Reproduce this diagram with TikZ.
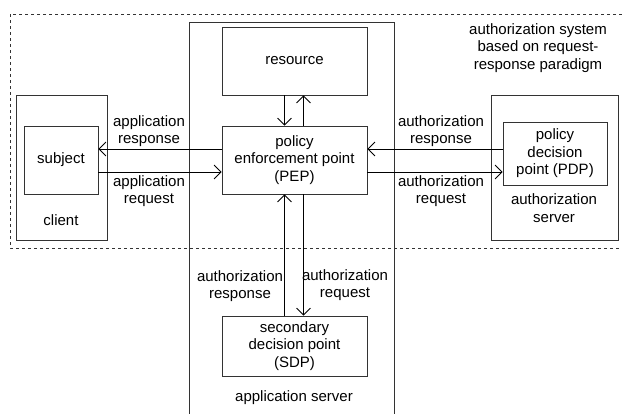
\documentclass[tikz,border=0pt]{standalone}
\usepackage{fontspec}
\setmainfont{Liberation Sans}
\usetikzlibrary{arrows.meta}
\begin{document}
\begin{tikzpicture}[x=1pt,y=-1pt,
  font=\fontsize{15}{17.5}\selectfont,
  box/.style={draw=black!80,line width=0.8pt,inner sep=0pt,align=center},
  lab/.style={align=center,inner sep=0pt},
  msg/.style={line width=0.8pt,-{Straight Barb[length=7pt,width=14pt]}}]
  \useasboundingbox (0,0) rectangle (622,413);
  % outer system and server frames
  \draw[dashed,line width=0.8pt,black!80] (10,14) rectangle (640,248);
  \node[box,minimum width=205,minimum height=410] (appsrv) at (291.5,227) {};
  \node[box,minimum width=91,minimum height=145] (client) at (61.5,167.5) {};
  \node[box,minimum width=127,minimum height=145] (authsrv) at (554.5,167.5) {};
  % components
  \node[box,minimum width=145,minimum height=68] (res) at (294.5,61) {resource};
  \node[box,minimum width=145,minimum height=68] (pep) at (294.5,160)
    {policy\\enforcement point\\(PEP)};
  \node[box,minimum width=145,minimum height=60] (sdp) at (294.5,346)
    {secondary\\decision point\\(SDP)};
  \node[box,minimum width=74,minimum height=68] (subj) at (61,160) {subject};
  \node[box,minimum width=104,minimum height=63] (pdp) at (555,153.5)
    {policy\\decision\\point (PDP)};
  % frame labels
  \node[lab] (sysl) at (538,48) {authorization system\\based on request-\\response paradigm};
  \node[lab] (clientl) at (61,220) {client};
  \node[lab] (authsrvl) at (554,208) {authorization\\server};
  \node[lab] (appsrvl) at (294,398) {application server};
  % messages
  \draw[msg] ([yshift=11pt]pep.west) -- ([yshift=11pt]subj.east);
  \draw[msg] ([yshift=-12pt]subj.east) -- ([yshift=-12pt]pep.west);
  \draw[msg] ([yshift=4.5pt]pdp.west) -- ([yshift=11pt]pep.east);
  \draw[msg] ([yshift=-12pt]pep.east) -- ([yshift=-18.5pt]pdp.west);
  \draw[msg] ([xshift=-10pt]res.south) -- ([xshift=-10pt]pep.north);
  \draw[msg] ([xshift=9pt]pep.north) -- ([xshift=9pt]res.south);
  \draw[msg] ([xshift=-10pt]sdp.north) -- ([xshift=-10pt]pep.south);
  \draw[msg] ([xshift=9pt]pep.south) -- ([xshift=9pt]sdp.north);
  \node[lab] (apprsp) at (149,131) {application\\response};
  \node[lab] (appreq) at (149,191) {application\\request};
  \node[lab] (authrsp) at (441,131) {authorization\\response};
  \node[lab] (authreq) at (441,191) {authorization\\request};
  \node[lab] (sdprsp) at (240,286) {authorization\\response};
  \node[lab] (sdpreq) at (345,285) {authorization\\request};
\end{tikzpicture}
\end{document}
